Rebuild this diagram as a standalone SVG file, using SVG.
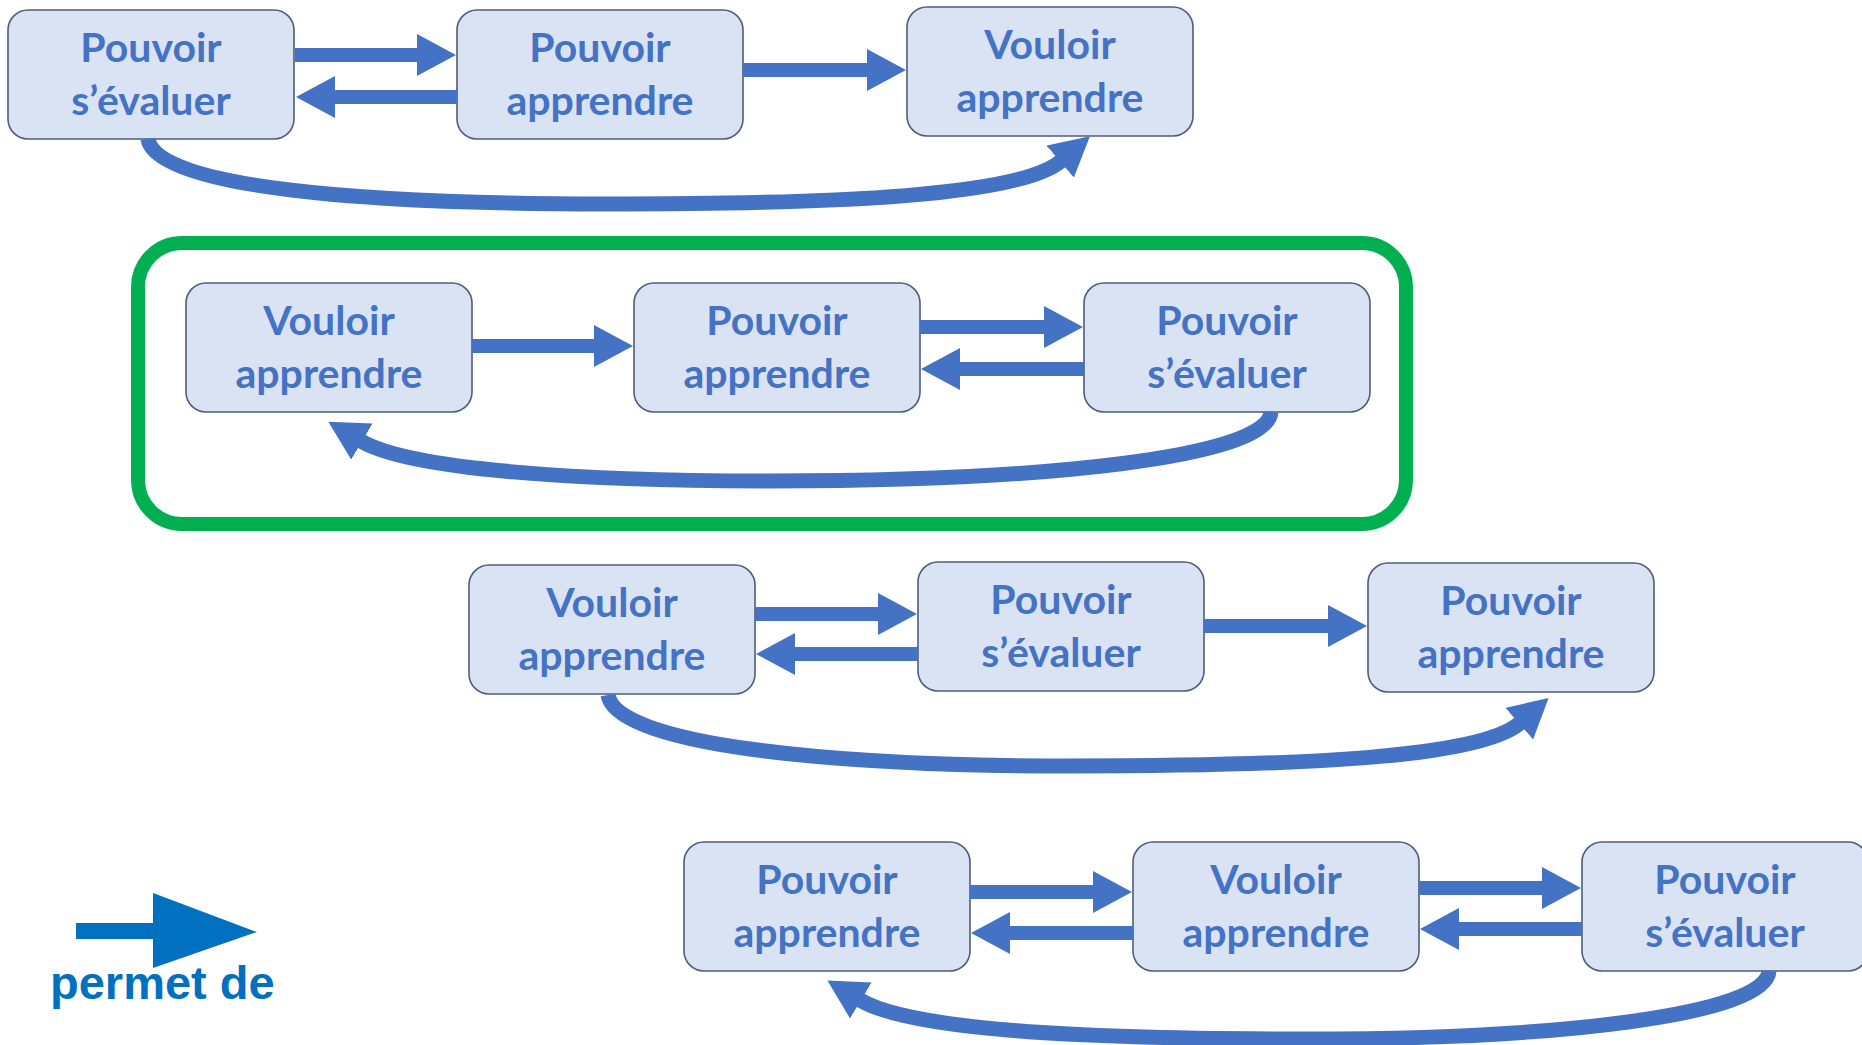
<svg xmlns="http://www.w3.org/2000/svg" width="1862" height="1045" viewBox="0 0 1862 1045">
  <defs>
    <style>
      .node rect { fill: #DAE3F3; stroke: #4E5D7A; stroke-width: 1.6; }
      .node text { font-family: Lato, "Open Sans", "Liberation Sans", sans-serif; font-weight: 700; font-size: 41px; fill: #4472C4; text-anchor: middle; }
      .arrow { fill: none; stroke: #4472C4; stroke-width: 14; marker-end: url(#head); }
      .loop { fill: none; stroke: #4472C4; stroke-width: 15; marker-end: url(#head); }
      .frame { fill: none; stroke: #00B050; stroke-width: 14; }
      .legend-text { font-family: "Liberation Sans", Arial, sans-serif; font-weight: 700; font-size: 47px; fill: #0070C0; }
    </style>
    <marker id="head" markerUnits="userSpaceOnUse" viewBox="0 0 40 42" markerWidth="40" markerHeight="42" refX="1" refY="21" orient="auto">
      <path d="M0,0 L39,21 L0,42 Z" fill="#4472C4"/>
    </marker>
  </defs>

  <rect x="0" y="0" width="1862" height="1045" fill="#FFFFFF"/>

  <!-- highlighted sequence -->
  <rect class="frame" x="138" y="243" width="1268" height="281" rx="44"/>

  <!-- row 1 -->
  <g id="r1-evaluer" class="node">
    <rect x="8" y="10" width="286" height="129" rx="20"/>
    <text x="151" y="62">Pouvoir</text>
    <text x="151" y="115">s’évaluer</text>
  </g>
  <g id="r1-apprendre" class="node">
    <rect x="457" y="10" width="286" height="129" rx="20"/>
    <text x="600" y="62">Pouvoir</text>
    <text x="600" y="115">apprendre</text>
  </g>
  <g id="r1-vouloir" class="node">
    <rect x="907" y="7" width="286" height="129" rx="20"/>
    <text x="1050" y="59">Vouloir</text>
    <text x="1050" y="112">apprendre</text>
  </g>

  <!-- row 2 -->
  <g id="r2-vouloir" class="node">
    <rect x="186" y="283" width="286" height="129" rx="20"/>
    <text x="329" y="335">Vouloir</text>
    <text x="329" y="388">apprendre</text>
  </g>
  <g id="r2-apprendre" class="node">
    <rect x="634" y="283" width="286" height="129" rx="20"/>
    <text x="777" y="335">Pouvoir</text>
    <text x="777" y="388">apprendre</text>
  </g>
  <g id="r2-evaluer" class="node">
    <rect x="1084" y="283" width="286" height="129" rx="20"/>
    <text x="1227" y="335">Pouvoir</text>
    <text x="1227" y="388">s’évaluer</text>
  </g>

  <!-- row 3 -->
  <g id="r3-vouloir" class="node">
    <rect x="469" y="565" width="286" height="129" rx="20"/>
    <text x="612" y="617">Vouloir</text>
    <text x="612" y="670">apprendre</text>
  </g>
  <g id="r3-evaluer" class="node">
    <rect x="918" y="562" width="286" height="129" rx="20"/>
    <text x="1061" y="614">Pouvoir</text>
    <text x="1061" y="667">s’évaluer</text>
  </g>
  <g id="r3-apprendre" class="node">
    <rect x="1368" y="563" width="286" height="129" rx="20"/>
    <text x="1511" y="615">Pouvoir</text>
    <text x="1511" y="668">apprendre</text>
  </g>

  <!-- row 4 -->
  <g id="r4-apprendre" class="node">
    <rect x="684" y="842" width="286" height="129" rx="20"/>
    <text x="827" y="894">Pouvoir</text>
    <text x="827" y="947">apprendre</text>
  </g>
  <g id="r4-vouloir" class="node">
    <rect x="1133" y="842" width="286" height="129" rx="20"/>
    <text x="1276" y="894">Vouloir</text>
    <text x="1276" y="947">apprendre</text>
  </g>
  <g id="r4-evaluer" class="node">
    <rect x="1582" y="842" width="286" height="129" rx="20"/>
    <text x="1725" y="894">Pouvoir</text>
    <text x="1725" y="947">s’évaluer</text>
  </g>

  <!-- connectors -->
  <g id="connectors">
    <!-- row 1 -->
    <line class="arrow" x1="295" y1="55" x2="418" y2="55"/>
    <line class="arrow" x1="457" y1="97" x2="334" y2="97"/>
    <line class="arrow" x1="743" y1="70" x2="868" y2="70"/>
    <path class="loop" d="M148,139 C156,189 370,204 606,204 C840,204 1020,196 1061,161"/>

    <!-- row 2 -->
    <line class="arrow" x1="472" y1="346" x2="595" y2="346"/>
    <line class="arrow" x1="920" y1="327" x2="1045" y2="327"/>
    <line class="arrow" x1="1084" y1="369" x2="959" y2="369"/>
    <path class="loop" d="M1271,412 C1268,458 1040,481 772,481 C580,481 410,470 361,441"/>

    <!-- row 3 -->
    <line class="arrow" x1="755" y1="614" x2="879" y2="614"/>
    <line class="arrow" x1="918" y1="654" x2="794" y2="654"/>
    <line class="arrow" x1="1204" y1="626" x2="1329" y2="626"/>
    <path class="loop" d="M608,695 C616,745 830,766 1069,766 C1300,766 1480,758 1520,723"/>

    <!-- row 4 -->
    <line class="arrow" x1="970" y1="892" x2="1094" y2="892"/>
    <line class="arrow" x1="1133" y1="933" x2="1009" y2="933"/>
    <line class="arrow" x1="1419" y1="888" x2="1543" y2="888"/>
    <line class="arrow" x1="1582" y1="929" x2="1458" y2="929"/>
    <path class="loop" d="M1769,971 C1766,1015 1560,1039 1306,1039 C1080,1039 910,1030 860,1000"/>
  </g>

  <!-- legend -->
  <g id="legend">
    <rect x="76" y="923" width="80" height="16" fill="#0070C0"/>
    <polygon points="153,893 257,932 153,968" fill="#0070C0"/>
    <text class="legend-text" x="50" y="999">permet de</text>
  </g>
</svg>
